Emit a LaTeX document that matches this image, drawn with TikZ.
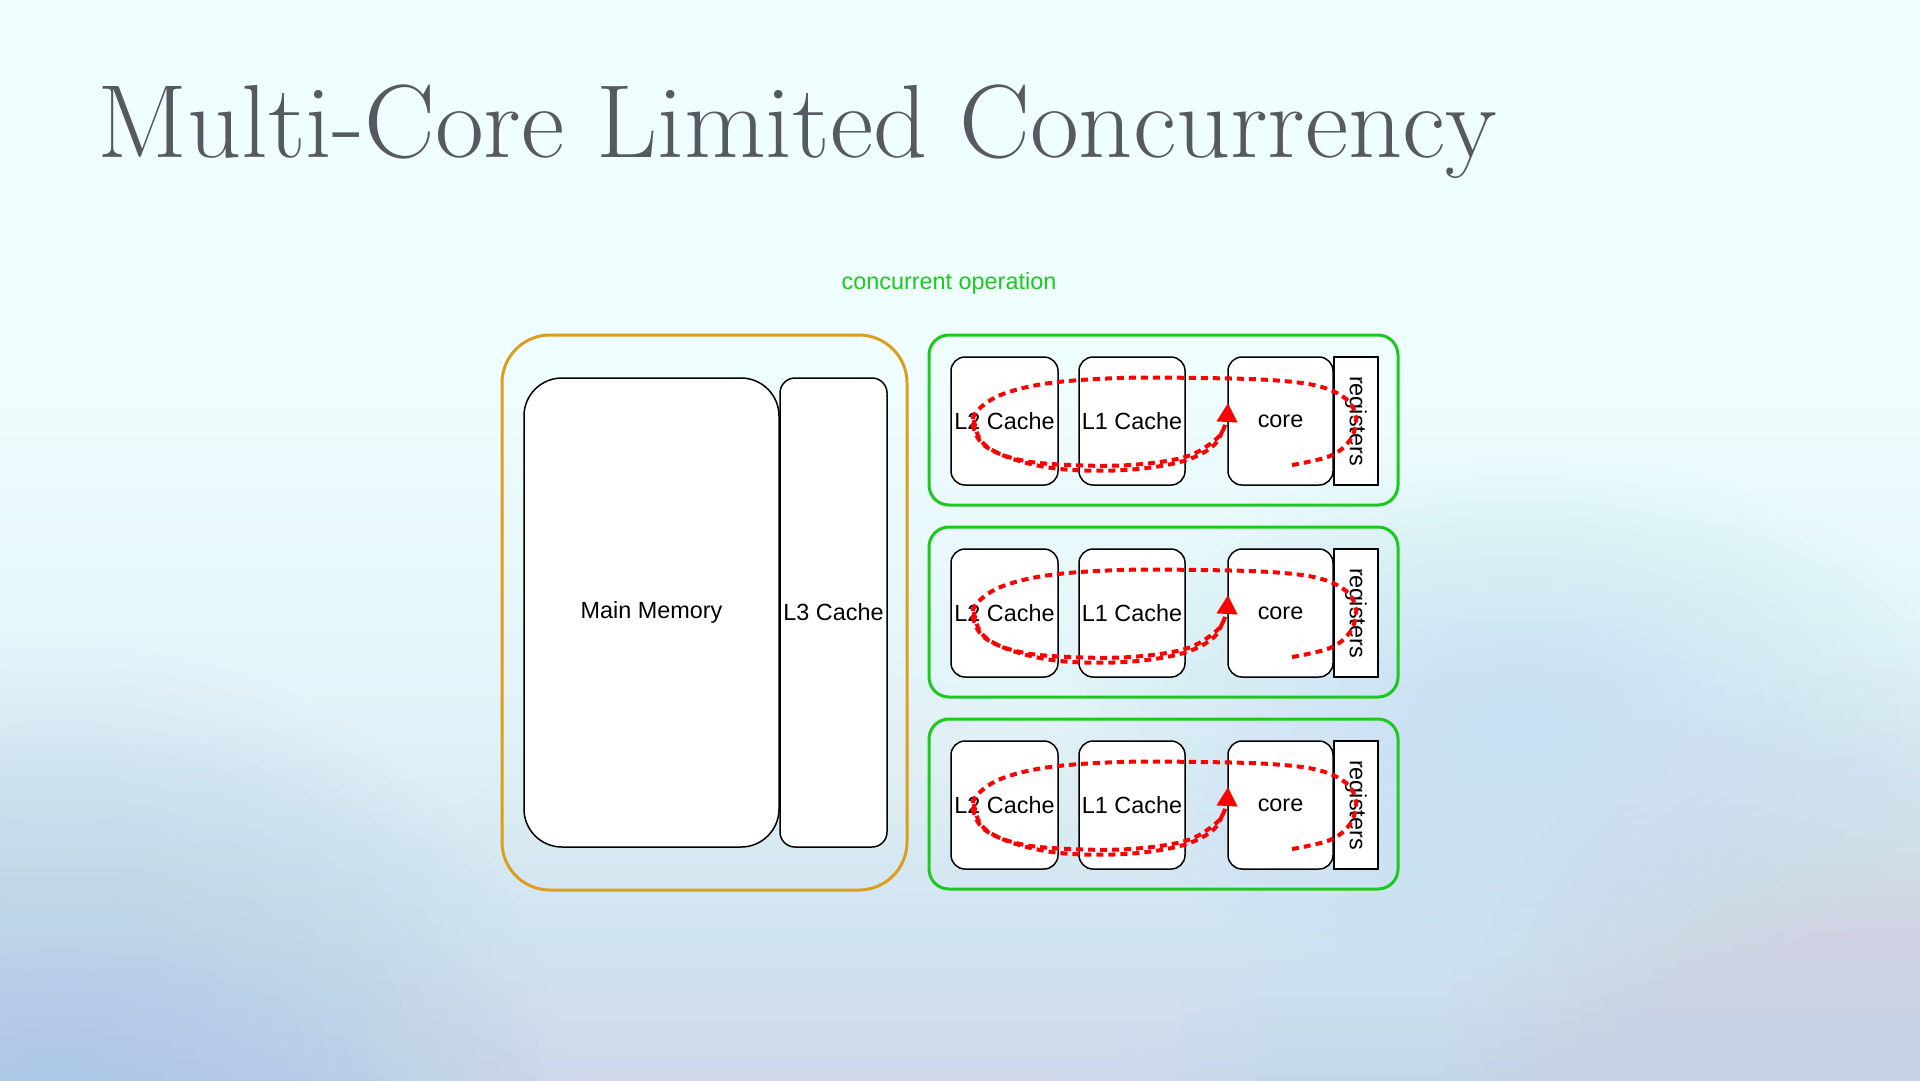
\documentclass[tikz,border=0pt]{standalone}
\usepackage{fontspec}
\usepackage{graphicx}
\setmainfont{Latin Modern Roman}
\newfontfamily\diagfont{Liberation Sans}
\usetikzlibrary{arrows.meta}
\definecolor{bgtop}{RGB}{239,254,254}
\definecolor{bgmid}{RGB}{226,244,249}
\definecolor{bgbot}{RGB}{196,216,234}
\definecolor{titlegrey}{RGB}{86,90,96}
\definecolor{dgreen}{RGB}{30,200,30}
\definecolor{dorange}{RGB}{220,158,30}
\definecolor{blobblue}{RGB}{172,200,232}
\definecolor{bloblight}{RGB}{236,240,242}
\definecolor{bloblav}{RGB}{208,210,228}
\definecolor{blobcyan}{RGB}{192,226,244}
\pgfdeclareverticalshading{bgshade}{100bp}{color(0bp)=(bgbot); color(25bp)=(bgbot); color(42bp)=(bgmid); color(58bp)=(bgtop); color(75bp)=(bgtop); color(100bp)=(bgtop)}
\tikzset{
  txt/.style={font=\diagfont\fontsize{23.4}{28}\selectfont, text=black},
  cbox/.style={txt, draw=black, line width=1.5pt, fill=white, rounded corners=14pt, inner sep=0pt, minimum height=128pt},
  regbox/.style={draw=black, line width=1.5pt, fill=white, inner sep=0pt, minimum width=44pt, minimum height=128pt},
  gbox/.style={draw=dgreen, line width=3pt, rounded corners=20pt, inner sep=0pt, minimum width=469pt, minimum height=170pt},
  obox/.style={draw=dorange, line width=3pt, rounded corners=48pt, inner sep=0pt},
  flow/.style={draw=red, line width=4pt, dash pattern=on 7pt off 5pt},
  flowarrow/.style={flow, -{Triangle[width=20pt,length=19pt]}},
  blob/.style={opacity=0.035}
}
\begin{document}
\begin{tikzpicture}[x=1pt,y=-1pt]
\useasboundingbox (0,0) rectangle (1920,1080);
% background
\shade[shading=bgshade] (0,0) rectangle (1920,1080);
\begin{scope}
\clip (0,0) rectangle (1920,1080);
\foreach \i in {1,...,24}{
  \fill[blobblue, blob] (60,1100) ellipse [x radius=21pt*\i, y radius=19pt*\i];
  \fill[blobcyan, blob] (1520,720) ellipse [x radius=19pt*\i, y radius=11pt*\i];
  \fill[bloblav, blob] (1900,1060) ellipse [x radius=19pt*\i, y radius=17pt*\i];
  \fill[bloblight, blob] (820,1030) ellipse [x radius=19pt*\i, y radius=15pt*\i];
}
\end{scope}
% title
\node[anchor=base west, text=titlegrey, font=\fontsize{104}{110}\selectfont, inner sep=0pt] (title) at (97,157) {\scalebox{1.02}[1]{Multi-Core Limited Concurrency}};
\node[txt, text=dgreen] (conc) at (949,283) {concurrent operation};
% memory side
\node[obox, minimum width=405pt, minimum height=555pt] (outer) at (704.5,612.5) {};
\node[cbox, rounded corners=38pt, minimum width=255pt, minimum height=469pt] (mainmem) at (651.5,612.5) {Main Memory};
\node[cbox, rounded corners=15pt, minimum width=107pt, minimum height=469pt] (lthree) at (833.5,612.5) {L3 Cache};
% core rows
\foreach \r/\dy in {1/0, 2/192, 3/384}{
\begin{scope}[shift={(0,\dy)}]
  \node[gbox] (g\r) at (1163.5,420) {};
  \node[cbox, minimum width=107pt] (ltwo\r) at (1004.5,421) {L2 Cache};
  \node[cbox, minimum width=106pt] (lone\r) at (1132,421) {L1 Cache};
  \node[cbox, minimum width=105pt] (core\r) at (1280.5,421) {core};
  \node[regbox] (reg\r) at (1356,421) {};
  \node[txt, rotate=-90] (regt\r) at (reg\r.center) {registers};
  \coordinate (start\r) at (1292,465);
  \coordinate (end\r) at (1228,403);
  \draw[flow] plot[smooth, tension=0.6] coordinates {(974,420) (982,442) (1010,458) (1060,469) (1125,470) (1180,462) (1212,447) (1223,429)};
  \draw[flowarrow] plot[smooth, tension=0.6] coordinates {(start\r) (1330,456) (1350,440) (1356,418) (1346,399) (1318,386) (1270,380) (1200,378) (1120,378) (1050,383) (1003,394) (978,410) (973,425) (985,446) (1020,460) (1070,465) (1130,465) (1185,457) (1215,440) (1225,425) (end\r)};
\end{scope}
}
\end{tikzpicture}
\end{document}
